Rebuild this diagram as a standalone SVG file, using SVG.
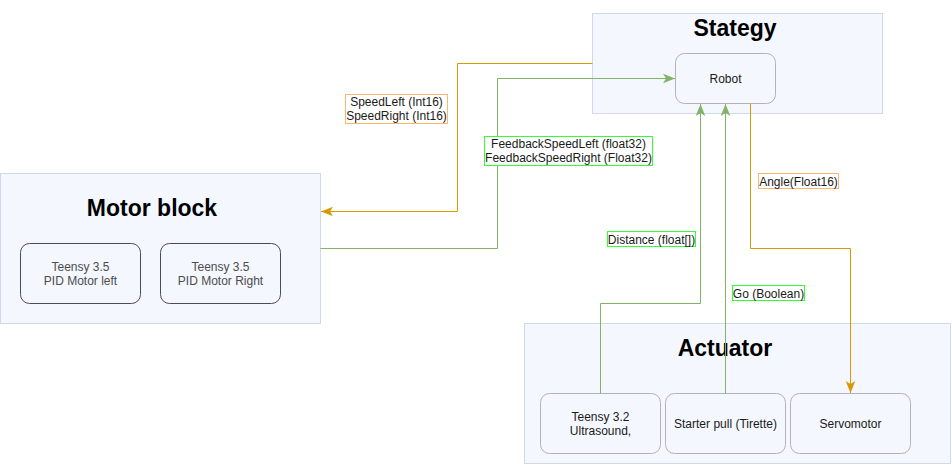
<svg xmlns="http://www.w3.org/2000/svg" width="952" height="465" viewBox="0 0 952 465">
<style>
.group{fill:#f4f7fd;stroke:#d0d9ea;stroke-width:1}
.title{font-family:"Liberation Sans",Arial,sans-serif;font-size:23px;font-weight:bold;fill:#000;text-anchor:middle}
.node{fill:none;stroke:#b3b3b3;stroke-width:1}
.node.dark{stroke:#4d4d4d}
.t{font-family:"Liberation Sans",Arial,sans-serif;font-size:12px;fill:#1a1a1a;text-anchor:middle}
.t.grey{fill:#4d4d4d}
.conn{fill:none;stroke-width:1}
.or{stroke:#d79b00}
.gr{stroke:#82b366}
.lbl{fill:#fff;stroke-width:1}
.lor{stroke:#ffb570}
.lgr{stroke:#33ff33}
</style>
<defs>
<marker id="ao" markerUnits="userSpaceOnUse" markerWidth="12" markerHeight="12" viewBox="0 0 10 8" refX="10" refY="4" orient="auto">
<path d="M0,0 L10,4 L0,8 L2.5,4 Z" fill="#d79b00"/>
</marker>
<marker id="ag" markerUnits="userSpaceOnUse" markerWidth="12" markerHeight="12" viewBox="0 0 10 8" refX="10" refY="4" orient="auto">
<path d="M0,0 L10,4 L0,8 L2.5,4 Z" fill="#82b366"/>
</marker>
</defs>

<g id="motor-block">
<rect class="group" x="0.5" y="173.5" width="320" height="150"/>
<text class="title" x="152" y="216">Motor block</text>
</g>
<g id="teensy-left">
<rect class="node dark" x="20.5" y="243.5" width="120" height="60" rx="9"/>
<text class="t grey" x="80.5" y="271">Teensy 3.5</text>
<text class="t grey" x="80.5" y="285">PID Motor left</text>
</g>
<g id="teensy-right">
<rect class="node dark" x="160.5" y="243.5" width="120" height="60" rx="9"/>
<text class="t grey" x="220.5" y="271">Teensy 3.5</text>
<text class="t grey" x="220.5" y="285">PID Motor Right</text>
</g>

<g id="stategy">
<rect class="group" x="592.5" y="13.5" width="290" height="100"/>
<text class="title" x="735" y="36">Stategy</text>
</g>
<g id="robot">
<rect class="node" x="675.5" y="53.5" width="100" height="50" rx="9"/>
<text class="t" x="725.5" y="83">Robot</text>
</g>

<g id="actuator">
<rect class="group" x="524.5" y="323.5" width="426" height="140"/>
<text class="title" x="725" y="356">Actuator</text>
</g>
<g id="teensy-32">
<rect class="node" x="540.5" y="393.5" width="120" height="60" rx="9"/>
<text class="t" x="600.5" y="421">Teensy 3.2</text>
<text class="t" x="600.5" y="435">Ultrasound,</text>
</g>
<g id="starter-pull">
<rect class="node" x="665.5" y="393.5" width="120" height="60" rx="9"/>
<text class="t" x="725.5" y="428">Starter pull (Tirette)</text>
</g>
<g id="servomotor">
<rect class="node" x="790.5" y="393.5" width="120" height="60" rx="9"/>
<text class="t" x="850.5" y="428">Servomotor</text>
</g>

<g id="connectors">
<path class="conn or" d="M592.5,63.5 H457.5 V211.5 H321" marker-end="url(#ao)"/>
<path class="conn gr" d="M320.5,248.5 H497.5 V78.5 H675" marker-end="url(#ag)"/>
<path class="conn gr" d="M600.5,393.5 V303.5 H700.5 V104" marker-end="url(#ag)"/>
<path class="conn gr" d="M725.5,393.5 V104" marker-end="url(#ag)"/>
<path class="conn or" d="M750.5,103.5 V248.5 H850.5 V393" marker-end="url(#ao)"/>

<g id="label-speed">
<rect class="lbl lor" x="345.5" y="94.5" width="102" height="29"/>
<text class="t" x="396.5" y="106">SpeedLeft (Int16)</text>
<text class="t" x="396.5" y="120">SpeedRight (Int16)</text>
</g>
<g id="label-feedback">
<rect class="lbl lgr" x="484.5" y="136.5" width="168" height="29"/>
<text class="t" x="568.5" y="148">FeedbackSpeedLeft (float32)</text>
<text class="t" x="568.5" y="162">FeedbackSpeedRight (Float32)</text>
</g>
<g id="label-angle">
<rect class="lbl lor" x="758.5" y="173.5" width="80" height="15"/>
<text class="t" x="798.5" y="185.5">Angle(Float16)</text>
</g>
<g id="label-distance">
<rect class="lbl lgr" x="607.5" y="231.5" width="88" height="15"/>
<text class="t" x="651.5" y="243.5">Distance (float[])</text>
</g>
<g id="label-go">
<rect class="lbl lgr" x="732.5" y="285.5" width="72" height="15"/>
<text class="t" x="768.5" y="297.5">Go (Boolean)</text>
</g>
</g>
</svg>
